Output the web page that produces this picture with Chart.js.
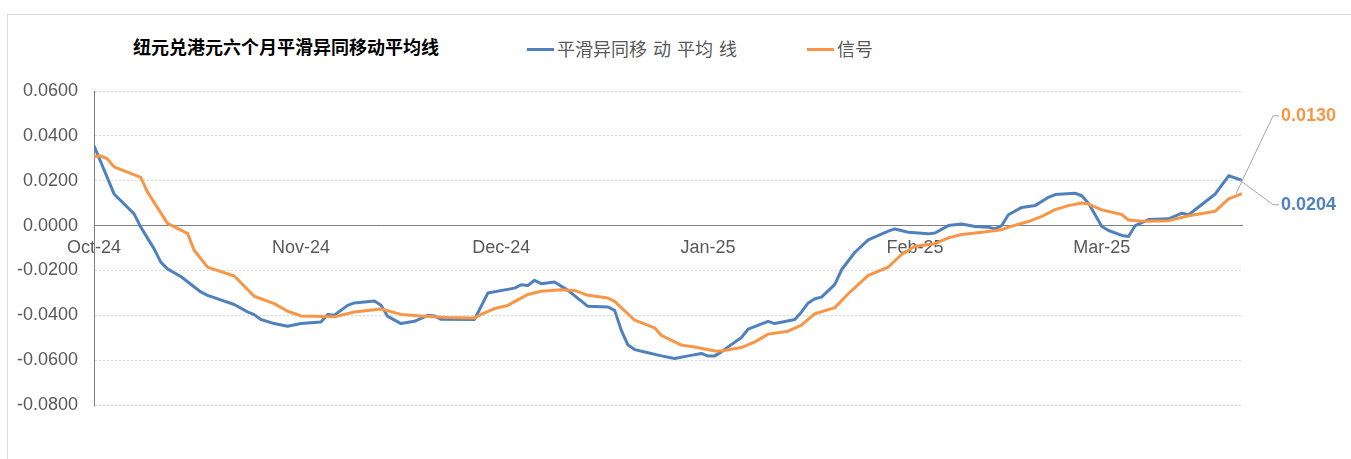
<!DOCTYPE html>
<html lang="zh">
<head>
<meta charset="utf-8">
<title>纽元兑港元六个月平滑异同移动平均线</title>
<script src="https://cdn.jsdelivr.net/npm/chart.js@4/dist/chart.umd.min.js"></script>
<style>
  body { margin: 0; background: #fff; overflow: hidden; }
  #marco { position: absolute; left: 7px; top: 14px; width: 1400px; height: 500px; border: 1px solid #d9d9d9; }
  #titulo { position: absolute; left: 133px; top: 33px; font: bold 18px "Noto Sans CJK SC", sans-serif; color: #000; white-space: nowrap; }
  .item { position: absolute; top: 35px; font: 18px "Noto Sans CJK SC", sans-serif; color: #595959; white-space: nowrap; word-spacing: 2px; }
  .item i { display: inline-block; width: 27px; height: 3px; vertical-align: middle; margin-right: 3px; position: relative; top: -2px; }
  #lienzo { position: absolute; left: 0; top: 0; width: 1351px; height: 459px; }
</style>
</head>
<body>
<div id="marco"></div>
<div id="titulo">纽元兑港元六个月平滑异同移动平均线</div>
<div class="item" style="left:527px"><i style="background:#4f81bd"></i>平滑异同移 动 平均 线</div>
<div class="item" style="left:807px"><i style="background:#f79646"></i>信号</div>
<div id="lienzo"><canvas id="grafica"></canvas></div>
<script>
// dias contados desde el 1 de octubre de 2024
const mesesDias = [0, 31, 61, 92, 123, 151];
const mesesEtiquetas = ['Oct-24', 'Nov-24', 'Dec-24', 'Jan-25', 'Feb-25', 'Mar-25'];

const diasMacd = [0, 3, 6, 7, 9, 10, 11, 13, 16, 17, 21, 23, 24, 25, 27, 29, 31, 34, 35, 36, 38, 39, 42, 43, 44, 46, 48, 50, 51, 52,
  57, 59, 63, 64, 65, 66, 67, 69, 71, 74, 77, 78, 79, 80, 81, 83, 85, 87, 89, 91, 92, 93, 94, 95, 97, 98, 101, 102, 105, 106,
  107, 108, 109, 111, 112, 114, 116, 119, 120, 122, 125, 126, 128, 130, 132, 134, 135, 136, 137, 139, 141, 143, 144, 147, 148,
  149, 151, 152, 154, 155, 156, 158, 161, 163, 164, 168, 170, 172];
const valoresMacd = [0.0356, 0.0141, 0.0052, -0.0007, -0.0104, -0.0163, -0.0193, -0.0227, -0.0296, -0.0311, -0.0352, -0.0385,
  -0.0397, -0.0419, -0.0437, -0.0449, -0.0437, -0.0430, -0.0396, -0.0400, -0.0356, -0.0345, -0.0336, -0.0355, -0.0405, -0.0437,
  -0.0427, -0.0400, -0.0403, -0.0418, -0.0419, -0.0301, -0.0279, -0.0264, -0.0267, -0.0244, -0.0259, -0.0252, -0.0289, -0.0360,
  -0.0363, -0.0378, -0.0467, -0.0533, -0.0553, -0.0567, -0.0581, -0.0593, -0.0581, -0.0570, -0.0582, -0.0581, -0.0563, -0.0541,
  -0.0499, -0.0462, -0.0427, -0.0437, -0.0419, -0.0385, -0.0345, -0.0326, -0.0319, -0.0262, -0.0197, -0.0119, -0.0064, -0.0025,
  -0.0015, -0.0030, -0.0037, -0.0033, 0.0000, 0.0007, -0.0004, -0.0007, -0.0015, 0.0000, 0.0048, 0.0081, 0.0089, 0.0126, 0.0138,
  0.0144, 0.0133, 0.0099, -0.0004, -0.0022, -0.0044, -0.0049, 0.0000, 0.0027, 0.0030, 0.0055, 0.0048, 0.0141, 0.0222, 0.0202];

const diasSenal = [0, 1, 2, 3, 7, 8, 11, 14, 15, 17, 21, 24, 27, 29, 31, 36, 39, 43, 46, 49, 53, 57, 58, 60, 62, 65, 67, 70, 72,
  74, 77, 78, 81, 84, 85, 88, 90, 93, 94, 97, 99, 101, 104, 106, 108, 111, 113, 116, 119, 121, 123, 126, 128, 130, 133, 136,
  137, 140, 142, 144, 146, 148, 149, 151, 154, 155, 157, 161, 164, 168, 170, 172];
const valoresSenal = [0.0307, 0.0311, 0.0297, 0.0262, 0.0215, 0.0150, 0.0010, -0.0035, -0.0110, -0.0185, -0.0225, -0.0315,
  -0.0348, -0.0382, -0.0403, -0.0407, -0.0385, -0.0372, -0.0396, -0.0403, -0.0410, -0.0412, -0.0396, -0.0370, -0.0356, -0.0307,
  -0.0293, -0.0286, -0.0289, -0.0311, -0.0323, -0.0338, -0.0422, -0.0456, -0.0490, -0.0533, -0.0541, -0.0559, -0.0559, -0.0544,
  -0.0519, -0.0484, -0.0471, -0.0444, -0.0393, -0.0366, -0.0304, -0.0222, -0.0185, -0.0129, -0.0092, -0.0081, -0.0055, -0.0040,
  -0.0030, -0.0019, -0.0007, 0.0018, 0.0041, 0.0071, 0.0089, 0.0101, 0.0096, 0.0070, 0.0049, 0.0025, 0.0019, 0.0022, 0.0044,
  0.0064, 0.0119, 0.0142];

// valores mostrados en las etiquetas del final
const ultimoMacd = 0.0204;
const ultimoSenal = 0.0130;

const azul = '#4f81bd';
const naranja = '#f79646';
const grisTexto = '#595959';

// dibuja las etiquetas finales con su linea guia
const etiquetasFinales = {
  id: 'etiquetasFinales',
  afterDatasetsDraw(chart, args, opts) {
    const ctx = chart.ctx;
    const escalaY = chart.scales.y;
    opts.items.forEach(item => {
      const meta = chart.getDatasetMeta(item.dataset);
      const p = meta.data[meta.data.length - 1];
      const y = escalaY.getPixelForValue(item.posicion);
      const codo = p.x + item.codo;
      ctx.save();
      ctx.strokeStyle = '#a6a6a6';
      ctx.lineWidth = 1;
      ctx.beginPath();
      ctx.moveTo(p.x - item.inicio, p.y);
      ctx.lineTo(codo, y);
      ctx.lineTo(codo + 6, y);
      ctx.stroke();
      ctx.font = 'bold 18px "Liberation Sans", Arial, sans-serif';
      ctx.fillStyle = item.color;
      ctx.textBaseline = 'middle';
      ctx.fillText(item.valor.toFixed(4), codo + 8, y);
      ctx.restore();
    });
  }
};

const ctx = document.getElementById('grafica');
new Chart(ctx, {
  type: 'line',
  data: {
    datasets: [
      {
        label: '平滑异同移动平均线',
        data: diasMacd.map((d, i) => ({ x: d, y: valoresMacd[i] })),
        borderColor: azul,
        borderWidth: 3,
        pointRadius: 0,
        borderJoinStyle: 'round',
        tension: 0,
        order: 2
      },
      {
        label: '信号',
        data: diasSenal.map((d, i) => ({ x: d, y: valoresSenal[i] })),
        borderColor: naranja,
        borderWidth: 3,
        pointRadius: 0,
        borderJoinStyle: 'round',
        tension: 0,
        order: 1
      }
    ]
  },
  options: {
    responsive: true,
    maintainAspectRatio: false,
    animation: false,
    layout: { padding: { left: 1, top: 91, right: 109, bottom: 54 } },
    scales: {
      x: {
        type: 'linear',
        position: { y: 0 },
        min: 0,
        max: 172,
        afterBuildTicks: (scale) => { scale.ticks = mesesDias.map(v => ({ value: v })); },
        ticks: {
          autoSkip: false,
          maxRotation: 0,
          padding: 12,
          color: grisTexto,
          font: { family: '"Liberation Sans", Arial, sans-serif', size: 18 },
          callback: (value, index) => mesesEtiquetas[index]
        },
        grid: { display: false, drawTicks: false },
        border: { display: true, color: '#7f7f7f', width: 1 }
      },
      y: {
        min: -0.08,
        max: 0.06,
        ticks: {
          stepSize: 0.02,
          padding: 16,
          color: grisTexto,
          font: { family: '"Liberation Sans", Arial, sans-serif', size: 18 },
          callback: (value) => (Math.abs(value) < 1e-9 ? 0 : value).toFixed(4)
        },
        grid: { color: '#d9d9d9', drawTicks: false },
        border: { display: true, color: '#7f7f7f', width: 1, dash: [2, 2] }
      }
    },
    plugins: {
      legend: { display: false },
      tooltip: { enabled: false },
      etiquetasFinales: {
        items: [
          { dataset: 1, valor: ultimoSenal, color: naranja, posicion: 0.0489, codo: 31, inicio: 6 },
          { dataset: 0, valor: ultimoMacd, color: azul, posicion: 0.0093, codo: 31, inicio: 2 }
        ]
      }
    }
  },
  plugins: [etiquetasFinales]
});
</script>
</body>
</html>
